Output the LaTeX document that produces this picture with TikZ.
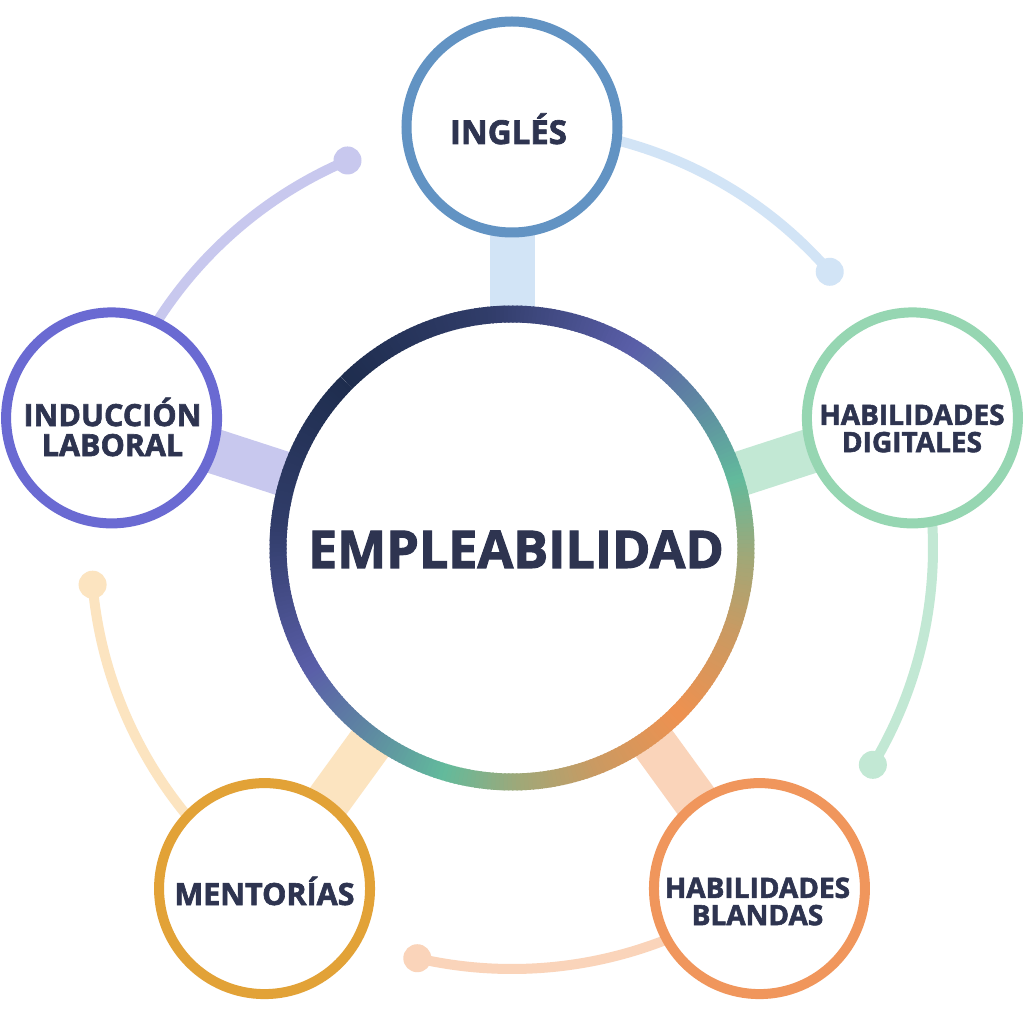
\documentclass[tikz,border=0pt]{standalone}
\usepackage{fontspec}
\setmainfont{Open Sans}[BoldFeatures={FakeBold=2}]
\definecolor{txt}{HTML}{2E3450}
\definecolor{g0}{HTML}{1E2D4E}
\definecolor{g1}{HTML}{313D6A}
\definecolor{g2}{HTML}{5A5EA8}
\definecolor{g3}{HTML}{5E86A2}
\definecolor{g4}{HTML}{62BA9C}
\definecolor{g5}{HTML}{A0A878}
\definecolor{g6}{HTML}{CA9A62}
\definecolor{g7}{HTML}{EE9150}
\definecolor{inA}{HTML}{6293C3}\definecolor{inB}{HTML}{D2E4F6}
\definecolor{diA}{HTML}{96D6B2}\definecolor{diB}{HTML}{C2E8D4}
\definecolor{blA}{HTML}{F0965C}\definecolor{blB}{HTML}{FAD4BA}
\definecolor{meA}{HTML}{E2A237}\definecolor{meB}{HTML}{FCE4C0}
\definecolor{ldA}{HTML}{6A6AD2}\definecolor{ldB}{HTML}{C8C8EE}
\pgfdeclarelayer{bg}\pgfsetlayers{bg,main}
\newcommand{\ringpart}[4]{%
  \pgfmathtruncatemacro{\ringn}{#2-#1}%
  \foreach \k in {1,...,\ringn}{%
    \pgfmathsetmacro{\ringpct}{100*(1-(\k-0.5)/\ringn)}%
    \pgfmathsetmacro{\ringA}{135-#1-\k+1}%
    \pgfmathsetmacro{\ringB}{135+#1+\k-1}%
    \draw[ringpiece, color=#3!\ringpct!#4] (\ringA:234) arc[start angle=\ringA, end angle=\ringA-1.4, radius=234];
    \draw[ringpiece, color=#3!\ringpct!#4] (\ringB:234) arc[start angle=\ringB, end angle=\ringB+1.4, radius=234];
  }}
\begin{document}
\begin{tikzpicture}[x=1pt,y=1pt,
  sat/.style={circle, draw=#1, line width=10pt, fill=white, minimum size=211pt, inner sep=0pt},
  lbl/.style={text=txt, inner sep=0pt, align=center},
  bar/.style={line width=45pt, draw=#1},
  orbit/.style={line width=10pt, draw=#1},
  tip/.style={circle, fill=#1, minimum size=28pt, inner sep=0pt},
  ringpiece/.style={line width=17pt}]
\useasboundingbox (-512,-476) rectangle (512,548);
% central node
\node[circle, fill=white, minimum size=484pt, inner sep=0pt] (emp) at (0,0) {};
\ringpart{0}{40}{g0}{g1}
\ringpart{40}{76}{g1}{g2}
\ringpart{76}{96}{g2}{g3}
\ringpart{96}{118}{g3}{g4}
\ringpart{118}{137}{g4}{g5}
\ringpart{137}{156}{g5}{g6}
\ringpart{156}{180}{g6}{g7}
\node[lbl, font=\bfseries\fontsize{52}{52}\selectfont, anchor=base] (empt) at (4,-20) {EMPLEABILIDAD};
% satellites
\node[sat=inA] (ingles) at (90:421) {};
\node[sat=diA] (digitales) at (18:421) {};
\node[sat=blA] (blandas) at (-54:421) {};
\node[sat=meA] (mentorias) at (-126:421) {};
\node[sat=ldA] (induccion) at (162:421) {};
% end dots
\node[tip=inB] (dotin) at (41:421) {};
\node[tip=diB] (dotdi) at (-31:421) {};
\node[tip=blB] (dotbl) at (-103:421) {};
\node[tip=meB] (dotme) at (-175:421) {};
\node[tip=ldB] (dotld) at (113:421) {};
% labels
\node[lbl, font=\bfseries\fontsize{33}{33}\selectfont, anchor=base] (inglest) at (-3.5,404) {INGLÉS};
\node[lbl, font=\bfseries\fontsize{28}{27.3}\selectfont] (digitalest) at (400,119.5) {HABILIDADES\\DIGITALES};
\node[lbl, font=\bfseries\fontsize{28}{27.3}\selectfont] (blandast) at (245.5,-353.5) {HABILIDADES\\BLANDAS};
\node[lbl, font=\bfseries\fontsize{30.5}{30}\selectfont, anchor=base] (mentoriast) at (-247.5,-357) {MENTORÍAS};
\node[lbl, font=\bfseries\fontsize{30.5}{30}\selectfont] (induccionst) at (-399.5,121) {INDUCCIÓN\\LABORAL};
% connectors behind
\begin{pgfonlayer}{bg}
\fill[white] (-512,-476) rectangle (512,548);
\draw[bar=inB] (emp.center) -- (ingles.center);
\draw[bar=diB] (emp.center) -- (digitales.center);
\draw[bar=blB] (emp.center) -- (blandas.center);
\draw[bar=meB] (emp.center) -- (mentorias.center);
\draw[bar=ldB] (emp.center) -- (induccion.center);
\draw[orbit=inB] (ingles.center) arc[start angle=90, end angle=41, radius=421];
\draw[orbit=diB] (digitales.center) arc[start angle=18, end angle=-31, radius=421];
\draw[orbit=blB] (blandas.center) arc[start angle=-54, end angle=-103, radius=421];
\draw[orbit=meB] (mentorias.center) arc[start angle=-126, end angle=-175, radius=421];
\draw[orbit=ldB] (induccion.center) arc[start angle=162, end angle=113, radius=421];
\end{pgfonlayer}
\end{tikzpicture}
\end{document}
